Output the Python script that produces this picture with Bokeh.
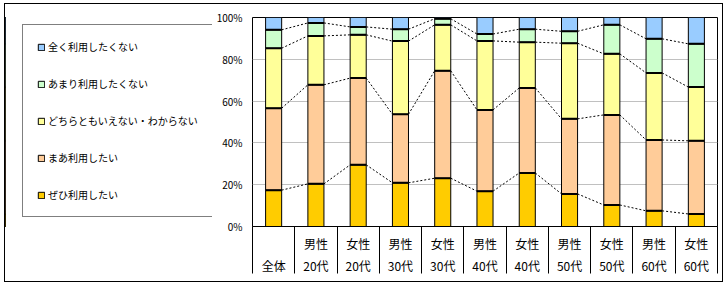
import numpy as np
from bokeh.plotting import figure
from bokeh.layouts import column, row
from bokeh.models import Range1d, FixedTicker, Legend, LegendItem, ColumnDataSource, LinearAxis
from bokeh.embed import file_html
from bokeh.resources import INLINE

# ---- data ----
label_top = ["", "男性", "女性", "男性", "女性", "男性", "女性", "男性", "女性", "男性", "女性"]
label_bottom = ["全体", "20代", "20代", "30代", "30代", "40代", "40代", "50代", "50代", "60代", "60代"]
series_names = ["ぜひ利用したい", "まあ利用したい", "どちらともいえない・わからない",
                "あまり利用したくない", "全く利用したくない"]
zehi = [17.4, 20.4, 29.5, 20.9, 23.1, 16.9, 25.6, 15.6, 10.3, 7.5, 6.0]
maa = [39.2, 47.4, 41.5, 32.8, 51.4, 38.9, 40.7, 35.9, 43.1, 33.9, 35.0]
dochira = [28.7, 23.4, 20.7, 35.0, 22.0, 33.0, 21.9, 36.2, 29.2, 32.1, 25.7]
amari = [8.8, 6.2, 3.8, 5.7, 2.9, 3.3, 6.2, 5.7, 13.9, 16.3, 20.7]
mattaku = [5.9, 2.6, 4.5, 5.6, 0.6, 7.9, 5.6, 6.6, 3.5, 10.2, 12.6]
colors = ["#FFCC00", "#FFCC99", "#FFFF99", "#CCFFCC", "#99CCFF"]
y_ticks = [0, 20, 40, 60, 80, 100]
y_tick_labels = ["0%", "20%", "40%", "60%", "80%", "100%"]

FONT = "Noto Sans CJK JP"
BAR_W = 0.38
n = len(label_bottom)
xs = np.arange(n)
keys = ["s0", "s1", "s2", "s3", "s4"]
vals = [zehi, maa, dochira, amari, mattaku]
src = ColumnDataSource(dict(x=xs, **{k: v for k, v in zip(keys, vals)}))
cum = np.cumsum(np.array(vals), axis=0)  # cumulative levels

LEG_W = 207
H = 277

# ---------------- main chart ----------------
p = figure(width=717 - LEG_W, height=H, x_range=Range1d(-0.5, n - 0.5), y_range=Range1d(0, 100),
           output_backend="svg", toolbar_location=None,
           min_border_left=247 - LEG_W, min_border_right=5, min_border_top=13, min_border_bottom=55)
p.outline_line_color = "black"
p.outline_line_width = 1
p.background_fill_color = "white"
p.border_fill_color = "white"

# series (dashed) lines between bars
sx0, sx1, sy0, sy1 = [], [], [], []
for k in range(4):
    for i in range(n - 1):
        sx0.append(xs[i] + BAR_W / 2)
        sx1.append(xs[i + 1] - BAR_W / 2)
        sy0.append(cum[k][i])
        sy1.append(cum[k][i + 1])
p.segment(x0=sx0, x1=sx1, y0=sy0, y1=sy1, line_color="black", line_width=1, line_dash="2 2")

p.vbar_stack(keys, x="x", width=BAR_W, source=src, fill_color=colors,
             line_color="black", line_width=1)

# boundaries between stacked segments
bx0, bx1, by = [], [], []
for k in range(4):
    for i in range(n):
        bx0.append(xs[i] - BAR_W / 2)
        bx1.append(xs[i] + BAR_W / 2)
        by.append(cum[k][i])
p.segment(x0=bx0, x1=bx1, y0=by, y1=by, line_color="black", line_width=2)

# y axis
p.yaxis.ticker = FixedTicker(ticks=y_ticks)
p.yaxis.major_label_overrides = {t: l for t, l in zip(y_ticks, y_tick_labels)}
p.yaxis.major_tick_out = 0
p.yaxis.major_tick_in = 0
p.yaxis.minor_tick_out = 0
p.yaxis.minor_tick_in = 0
p.yaxis.axis_line_color = None
p.yaxis.major_label_standoff = 10
p.yaxis.major_label_text_font = FONT
p.yaxis.major_label_text_font_size = "10px"
p.yaxis.major_label_text_color = "black"

p.ygrid.ticker = FixedTicker(ticks=y_ticks)
p.ygrid.grid_line_color = "#C0C0C0"
p.xgrid.grid_line_color = None

# x axis A: separators + first label row
xa = p.xaxis[0]
xa.ticker = FixedTicker(ticks=list(xs), minor_ticks=list(np.arange(n + 1) - 0.5))
xa.major_label_overrides = {int(i): t for i, t in zip(xs, label_top)}
xa.major_tick_out = 0
xa.major_tick_in = 0
xa.minor_tick_out = 47
xa.minor_tick_in = 0
xa.minor_tick_line_color = "black"
xa.axis_line_color = "black"
xa.major_label_standoff = -39
xa.major_label_text_font = FONT
xa.major_label_text_font_size = "12px"
xa.major_label_text_color = "black"

# x axis B: second label row
xb = LinearAxis(ticker=FixedTicker(ticks=list(xs)),
                major_label_overrides={int(i): t for i, t in zip(xs, label_bottom)},
                major_tick_out=0, major_tick_in=0, minor_tick_out=0, minor_tick_in=0,
                axis_line_color=None, major_tick_line_color=None, minor_tick_line_color=None,
                major_label_standoff=2, major_label_text_font=FONT,
                major_label_text_font_size="12px", major_label_text_color="black")
p.add_layout(xb, "below")

# ---------------- legend panel ----------------
# same stacked series drawn out of view: only their legend swatches are shown
lg = figure(width=LEG_W, height=H, x_range=Range1d(100, 101), y_range=Range1d(0, 100),
            output_backend="svg", toolbar_location=None,
            x_axis_location=None, y_axis_location=None,
            min_border_left=0, min_border_right=0, min_border_top=0, min_border_bottom=0)
lg.outline_line_color = None
lg.grid.grid_line_color = None
lg.background_fill_color = "white"
lg.border_fill_color = "white"
swatches = lg.vbar_stack(keys, x="x", width=BAR_W, source=src, fill_color=colors,
                         line_color="black", line_width=1)

legend = Legend(items=[LegendItem(label=series_names[k], renderers=[swatches[k]]) for k in range(4, -1, -1)],
                location=(17, 9), border_line_color="black", border_line_width=1,
                padding=14, spacing=22, glyph_width=8, glyph_height=8, label_height=14,
                label_standoff=3, label_text_font=FONT, label_text_font_size="10px",
                label_text_color="black",
                background_fill_color="white", background_fill_alpha=1, margin=0)
lg.add_layout(legend)

root = column(row(lg, p), styles={"border": "1px solid black", "margin-left": "4px", "margin-top": "3px"})
open("out.html", "w").write(file_html(root, INLINE))
